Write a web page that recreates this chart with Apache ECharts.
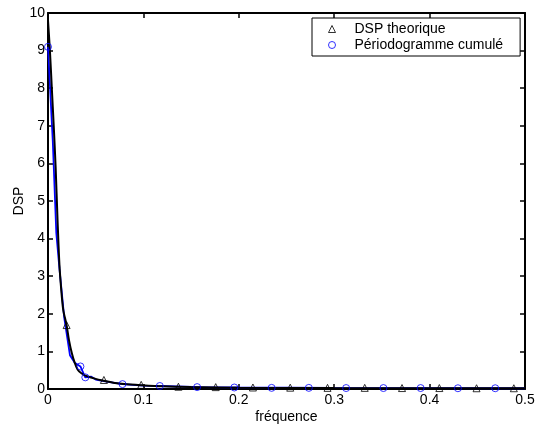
<!DOCTYPE html>
<html>
<head>
<meta charset="utf-8">
<script src="https://cdn.jsdelivr.net/npm/echarts@6/dist/echarts.min.js"></script>
<style>
  html, body { margin: 0; padding: 0; background: #fff; }
  #chart { width: 535px; height: 429px; }
</style>
</head>
<body>
<div id="chart"></div>
<script>
// Theoretical PSD curve (frequency, value)
var dspFreq = [0, 0.002, 0.004, 0.006, 0.008, 0.010, 0.012, 0.014, 0.016, 0.0195, 0.022, 0.025, 0.028, 0.031, 0.035, 0.040, 0.050, 0.0586, 0.070, 0.080, 0.0977, 0.12, 0.15, 0.20, 0.30, 0.40, 0.50];
var dspVals = [9.8, 9.0, 8.0, 7.0, 5.9, 4.5, 3.3, 2.6, 2.1, 1.7, 1.3, 0.95, 0.7, 0.52, 0.42, 0.35, 0.27, 0.22, 0.16, 0.13, 0.10, 0.07, 0.05, 0.035, 0.025, 0.02, 0.02];

// Cumulated periodogram curve
var perFreq = [0, 0.005, 0.0087, 0.012, 0.017, 0.023, 0.028, 0.034, 0.039, 0.045, 0.050, 0.060, 0.078, 0.10, 0.117, 0.16, 0.20, 0.30, 0.40, 0.50];
var perVals = [9.1, 6.6, 4.15, 3.2, 1.9, 0.9, 0.7, 0.6, 0.31, 0.33, 0.25, 0.2, 0.13, 0.09, 0.08, 0.05, 0.04, 0.03, 0.025, 0.02];

// Markers
var triFreq = [0.0195, 0.0586, 0.0977, 0.1367, 0.1758, 0.2148, 0.2539, 0.2930, 0.3320, 0.3711, 0.4102, 0.4492, 0.4883];
var triVals = [1.7, 0.24, 0.11, 0.06, 0.05, 0.04, 0.035, 0.03, 0.03, 0.025, 0.025, 0.02, 0.02];
var circFreq = [0, 0.034, 0.0391, 0.0781, 0.1172, 0.1563, 0.1953, 0.2344, 0.2734, 0.3125, 0.3516, 0.3906, 0.4297, 0.4688];
var circVals = [9.1, 0.6, 0.31, 0.13, 0.08, 0.05, 0.04, 0.03, 0.03, 0.025, 0.025, 0.025, 0.02, 0.02];

var xTicks = [0, 0.1, 0.2, 0.3, 0.4, 0.5];
var yTicks = [0, 1, 2, 3, 4, 5, 6, 7, 8, 9, 10];

function pairs(xs, ys) {
    return xs.map(function(x, i) { return [x, ys[i]]; });
}

var font = 'Liberation Sans, Arial, sans-serif';
var chart = echarts.init(document.getElementById('chart'));

var axisBase = {
    axisLine: { show: true, onZero: false, lineStyle: { color: '#000', width: 2 } },
    axisTick: { show: true, inside: true, length: 5, lineStyle: { color: '#000', width: 1.5 } },
    splitLine: { show: false }
};

chart.setOption({
    animation: false,
    textStyle: { fontFamily: font },
    grid: { left: 48, right: 10, top: 13, bottom: 40, outerBoundsMode: 'none', containLabel: false },
    legend: {
        left: 312,
        top: 18,
        orient: 'vertical',
        backgroundColor: '#fff',
        borderColor: '#000',
        borderWidth: 1,
        borderRadius: 0,
        padding: [3, 17, 3, 16],
        itemGap: 0,
        itemWidth: 7,
        itemHeight: 7,
        textStyle: { fontFamily: font, fontSize: 14, lineHeight: 16, color: '#000', padding: [0, 0, 0, 14] },
        data: [
            { name: 'DSP theorique', icon: 'triangle', itemStyle: { color: 'transparent', borderColor: '#000', borderWidth: 1 } },
            { name: 'Périodogramme cumulé', icon: 'circle', itemStyle: { color: 'transparent', borderColor: '#0000ff', borderWidth: 1 } }
        ]
    },
    xAxis: [
        Object.assign({}, axisBase, {
            type: 'value', min: 0, max: 0.5, interval: 0.1,
            name: 'fréquence', nameLocation: 'middle', nameGap: 21, nameMoveOverlap: false,
            nameTextStyle: { fontFamily: font, fontSize: 14, color: '#000' },
            axisLabel: { fontFamily: font, fontSize: 14, color: '#000', margin: 4,
                formatter: function(v) { return xTicks.indexOf(Math.round(v * 10) / 10) >= 0 ? String(Math.round(v * 10) / 10) : ''; } }
        }),
        Object.assign({}, axisBase, {
            type: 'value', min: 0, max: 0.5, interval: 0.1, position: 'top',
            axisLabel: { show: false }
        })
    ],
    yAxis: [
        Object.assign({}, axisBase, {
            type: 'value', min: 0, max: 10, interval: 1,
            name: 'DSP', nameLocation: 'middle', nameGap: 22, nameMoveOverlap: false,
            nameTextStyle: { fontFamily: font, fontSize: 14, color: '#000' },
            axisLabel: { fontFamily: font, fontSize: 14, color: '#000', margin: 3,
                formatter: function(v) { return yTicks.indexOf(v) >= 0 ? String(v) : ''; } }
        }),
        Object.assign({}, axisBase, {
            type: 'value', min: 0, max: 10, interval: 1, position: 'right',
            axisLabel: { show: false }
        })
    ],
    series: [
        {
            name: 'periodogram curve',
            type: 'line',
            data: pairs(perFreq, perVals),
            showSymbol: false,
            lineStyle: { color: '#0000ff', width: 1.8 },
            z: 2
        },
        {
            name: 'dsp curve',
            type: 'line',
            data: pairs(dspFreq, dspVals),
            showSymbol: false,
            smooth: 0.3,
            lineStyle: { color: '#000', width: 2 },
            z: 3
        },
        {
            name: 'DSP theorique',
            type: 'scatter',
            data: pairs(triFreq, triVals),
            symbol: 'triangle',
            symbolSize: 7,
            itemStyle: { color: 'transparent', borderColor: '#000', borderWidth: 1 },
            z: 4
        },
        {
            name: 'Périodogramme cumulé',
            type: 'scatter',
            data: pairs(circFreq, circVals),
            symbol: 'circle',
            symbolSize: 7,
            itemStyle: { color: 'transparent', borderColor: '#0000ff', borderWidth: 1 },
            z: 4
        }
    ]
});
</script>
</body>
</html>
